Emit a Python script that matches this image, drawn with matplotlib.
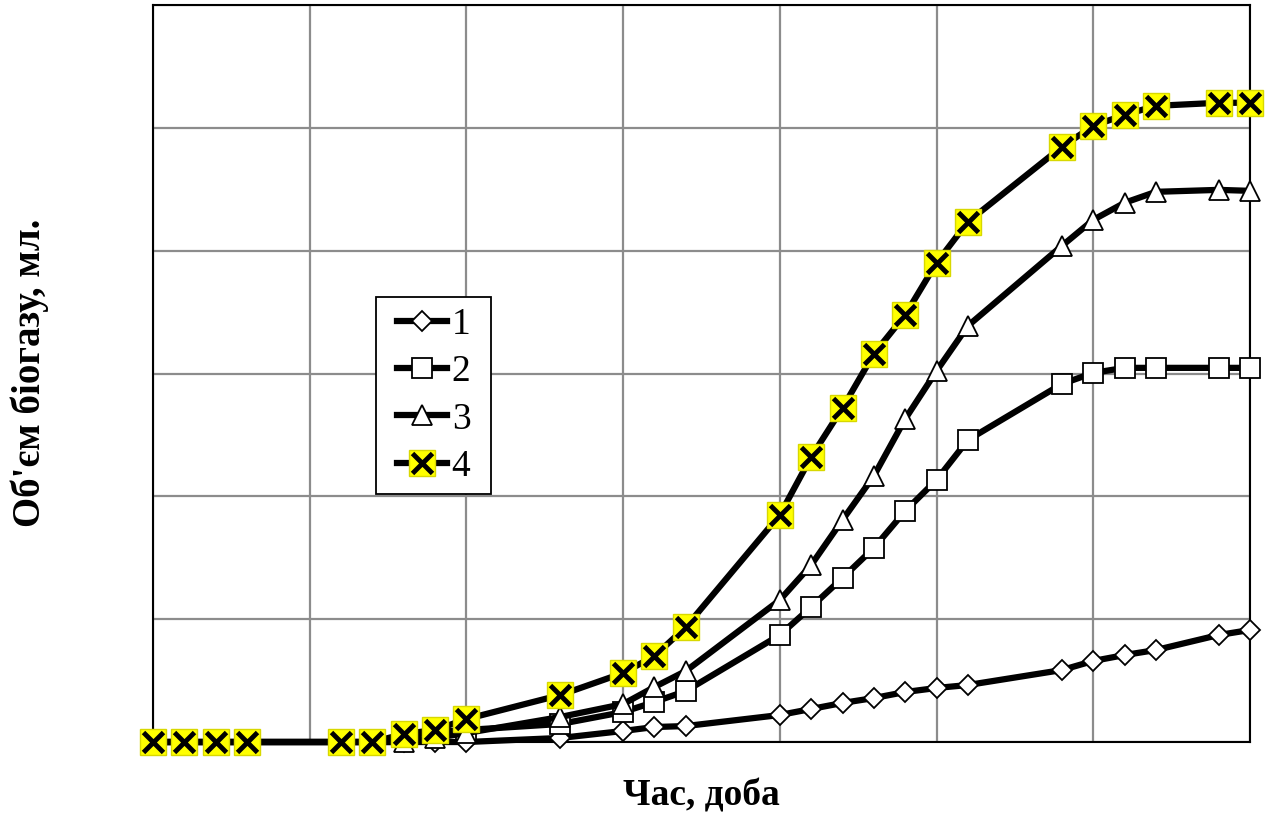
import numpy as np
import matplotlib.pyplot as plt
from matplotlib.lines import Line2D
from matplotlib.patches import Rectangle

plt.rcParams['font.family'] = ['Liberation Serif', 'DejaVu Serif']

# Час, доба
days = [0, 1, 2, 3, 6, 7, 8, 9, 10, 13, 15, 16, 17, 20, 21, 22, 23, 24, 25, 26,
        29, 30, 31, 32, 34, 35]

# Об'єм біогазу, мл
s1 = [0, 0, 0, 0, 0, 0, 0, 0, 0, 3.3, 9.0, 12.2, 13.0, 22.0, 26.9, 31.8, 35.8,
      40.7, 44.0, 46.4, 58.6, 66.0, 70.8, 74.9, 87.1, 91.2]
s2 = [0, 0, 0, 0, 0, 0, 4.9, 8.1, 9.8, 14.7, 24.4, 32.6, 41.5, 87.1, 109.9,
      133.6, 158.0, 188.1, 213.4, 245.9, 291.5, 300.5, 304.6, 304.6, 304.6, 304.6]
s3 = [0, 0, 0, 0, 0, 0, 0, 3.3, 7.3, 20.4, 30.9, 44.8, 57.8, 115.6, 144.1,
      180.8, 216.6, 263.0, 302.1, 338.8, 403.9, 425.1, 439.0, 447.9, 449.5, 448.7]
s4 = [0, 0, 0, 0, 0, 0, 6.5, 9.8, 18.7, 38.3, 56.2, 70.0, 93.6, 184.9, 232.1,
      272.0, 316.0, 347.7, 390.1, 423.5, 484.5, 501.6, 510.6, 517.9, 520.4, 520.4]

labels = ['1', '2', '3', '4']

fig = plt.figure(figsize=(12.73, 8.19), dpi=100)
ax = fig.add_axes([0.1202, 0.094, 0.8617, 0.8999])

lw = 4.5
h1, = ax.plot(days, s1, color='black', lw=lw, marker='D', ms=10, mfc='white',
              mec='black', mew=1.3, clip_on=False, zorder=3)
h2, = ax.plot(days, s2, color='black', lw=lw, marker='s', ms=15, mfc='white',
              mec='black', mew=1.3, clip_on=False, zorder=4)
h3, = ax.plot(days, s3, color='black', lw=lw, marker='^', ms=15, mfc='white',
              mec='black', mew=1.3, clip_on=False, zorder=5)
h4, = ax.plot(days, s4, color='black', lw=lw, marker='s', ms=19, mfc='#ffff00',
              mec='#d8d800', mew=1.0, clip_on=False, zorder=6)
h4x, = ax.plot(days, s4, ls='none', marker='x', ms=14, mec='black', mew=3.5,
               clip_on=False, zorder=7)

ax.set_xlim(0, 35)
ax.set_ylim(0, 600)
ax.set_xticks(np.arange(0, 36, 5))
ax.set_yticks(np.arange(0, 601, 100))
ax.tick_params(length=0, labelbottom=False, labelleft=False)
ax.grid(True, color='#8c8c8c', lw=1.6)
ax.set_axisbelow(True)
for sp in ax.spines.values():
    sp.set_color('black')
    sp.set_linewidth(1.5)

ax.set_xlabel('Час, доба', fontsize=27, fontweight='bold', labelpad=26)
fig.text(30 / 1273, 1 - 373 / 819, 'Об\'єм біогазу, мл.', fontsize=28,
         fontweight='bold', rotation=90, ha='center', va='center')

leg_x = Line2D([], [], ls='none', marker='x', ms=14, mec='black', mew=3.5)
leg = ax.legend([h1, h2, h3, (h4, leg_x)], labels, loc='upper left',
                bbox_to_anchor=(0.2124, 0.6038), borderaxespad=0,
                fontsize=27, numpoints=1,
                handlelength=1.35, handletextpad=0.12, labelspacing=0.34,
                borderpad=0.28, frameon=False)
leg.set_zorder(10)

# legend frame, a bit wider than the packed legend box
fig.canvas.draw()
bb = leg.get_window_extent()
x0, y0 = fig.transFigure.inverted().transform((bb.x0 - 10, bb.y0))
x1, y1 = fig.transFigure.inverted().transform((bb.x1 + 10, bb.y1))
ax.add_patch(Rectangle((x0, y0), x1 - x0, y1 - y0, transform=fig.transFigure,
                       facecolor='white', edgecolor='black', lw=1.3,
                       clip_on=False, zorder=9))

fig.savefig('out.png', dpi=100)
